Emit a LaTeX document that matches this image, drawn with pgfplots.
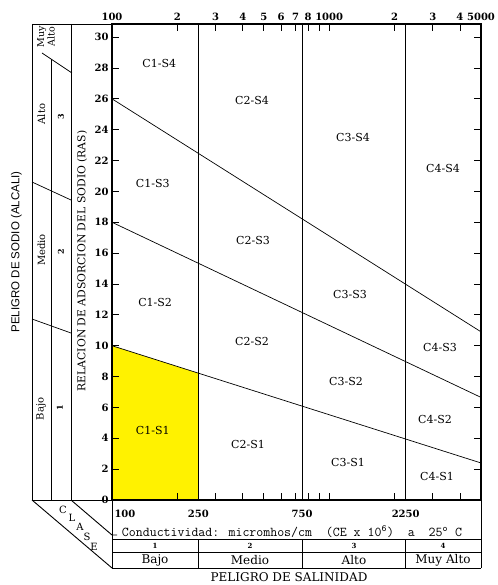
\documentclass[border=0pt]{standalone}
\usepackage{pgfplots}
\pgfplotsset{compat=1.18}
\usepackage{fontspec}
\setmainfont{DejaVu Serif}
\newfontfamily\lsans{Liberation Sans}
\newcommand{\fs}[1]{\fontsize{#1}{#1}\selectfont}
\begin{document}
\begin{tikzpicture}[line cap=butt]
\useasboundingbox (0pt,0pt) rectangle (497pt,-585pt);
\begin{axis}[
  at={(112pt,-500pt)}, anchor=south west,
  scale only axis, width=369pt, height=476pt,
  xmode=log, xmin=100, xmax=5000, ymin=0, ymax=30.85,
  axis line style={line width=1.1pt},
  xtick={100,200,300,400,500,600,700,800,900,1000,2000,3000,4000,5000},
  xticklabels={100,2,3,4,5,6,7,8,{},1000,2,3,4,5000},
  xticklabel pos=upper,
  minor xtick={},
  ytick={0,2,...,30},
  tick align=inside,
  major tick length=7pt,
  tick style={line width=0.9pt, black},
  ticklabel style={font=\bfseries\fs{10}},
  /pgf/number format/assume math mode=true,
  axis on top,
  clip=false,
]
% C1-S1 region
\addplot[fill=yellow, draw=none] coordinates {(100,0) (100,10) (250,8.22) (250,0) (100,0)};
% sodium hazard boundaries
\addplot[black, line width=0.7pt] coordinates {(100,26) (5000,10.9)};
\addplot[black, line width=0.7pt] coordinates {(100,18) (5000,6.65)};
\addplot[black, line width=0.7pt] coordinates {(100,10) (5000,2.4)};
% salinity hazard boundaries
\addplot[black, line width=0.8pt] coordinates {(250,0) (250,30.85)};
\addplot[black, line width=0.8pt] coordinates {(750,0) (750,30.85)};
\addplot[black, line width=0.8pt] coordinates {(2250,0) (2250,30.85)};
% region labels
\begin{scope}[every node/.style={font=\fs{11}}]
\node at (axis cs:165,28.3) {C1-S4};
\node at (axis cs:441,25.9) {C2-S4};
\node at (axis cs:1287,23.5) {C3-S4};
\node at (axis cs:3342,21.5) {C4-S4};
\node at (axis cs:154,20.5) {C1-S3};
\node at (axis cs:446,16.85) {C2-S3};
\node at (axis cs:1247,13.3) {C3-S3};
\node at (axis cs:3236,9.9) {C4-S3};
\node at (axis cs:158,12.8) {C1-S2};
\node at (axis cs:441,10.25) {C2-S2};
\node at (axis cs:1195,7.7) {C3-S2};
\node at (axis cs:3070,5.2) {C4-S2};
\node at (axis cs:154,4.5) {C1-S1};
\node at (axis cs:423,3.6) {C2-S1};
\node at (axis cs:1221,2.46) {C3-S1};
\node at (axis cs:3136,1.5) {C4-S1};
\end{scope}
% bottom conductivity tick labels
\begin{scope}[every node/.style={font=\bfseries\fs{10}}]
\node[anchor=west] at ([xshift=-1pt,yshift=-14pt]axis cs:100,0) {100};
\node at ([yshift=-14pt]axis cs:250,0) {250};
\node at ([yshift=-14pt]axis cs:750,0) {750};
\node at ([yshift=-14pt]axis cs:2250,0) {2250};
\end{scope}
% table dividers
\draw[line width=0.9pt] ([yshift=-39pt]axis cs:250,0) -- ([yshift=-68pt]axis cs:250,0);
\draw[line width=0.9pt] ([yshift=-39pt]axis cs:750,0) -- ([yshift=-68pt]axis cs:750,0);
\draw[line width=0.9pt] ([yshift=-39pt]axis cs:2250,0) -- ([yshift=-68pt]axis cs:2250,0);
\end{axis}
% ---- bottom table ----
\draw[line width=0.9pt] (112pt,-500pt) -- (112pt,-568pt);
\draw[line width=0.9pt] (481pt,-500pt) -- (481pt,-568pt);
\draw[line width=0.9pt] (112pt,-539pt) -- (481pt,-539pt);
\draw[line width=0.9pt] (112pt,-552pt) -- (481pt,-552pt);
\draw[line width=1pt] (112pt,-568pt) -- (481pt,-568pt);
\node[font=\ttfamily\fs{13.5}] at (292pt,-532pt) {Conductividad: micromhos/cm\ \ (CE x 10\textsuperscript{6})\ \ a\ \ 25\textsuperscript{o} C};
\begin{scope}[every node/.style={font=\bfseries\fs{7}}]
\node at (155pt,-545.5pt) {1};
\node at (250pt,-545.5pt) {2};
\node at (354pt,-545.5pt) {3};
\node at (443pt,-545.5pt) {4};
\end{scope}
\begin{scope}[every node/.style={font=\fs{12}}]
\node at (155pt,-560pt) {Bajo};
\node at (250pt,-560pt) {Medio};
\node at (354pt,-560pt) {Alto};
\node at (443pt,-560pt) {Muy Alto};
\end{scope}
\node[font=\fs{12}, inner sep=1pt] at (289pt,-577pt) {PELIGRO DE SALINIDAD};
% ---- left sodium-hazard panel ----
\draw[line width=0.9pt] (32pt,-24pt) -- (112pt,-24pt);
\draw[line width=0.9pt] (32pt,-24pt) -- (32pt,-500pt);
\draw[line width=0.9pt] (71pt,-24pt) -- (71pt,-500pt);
\draw[line width=0.9pt] (51pt,-59pt) -- (51pt,-500pt);
\draw[line width=0.9pt] (32pt,-500pt) -- (112pt,-500pt);
\draw[line width=0.7pt] (42pt,-53pt) -- (72pt,-73pt);
\draw[line width=0.7pt] (32pt,-182pt) -- (71pt,-200pt);
\draw[line width=0.7pt] (32pt,-319pt) -- (71pt,-333pt);
\draw[line width=0.9pt] (32pt,-500pt) -- (112pt,-568pt);
\draw[line width=0.9pt] (71pt,-500pt) -- (112pt,-535pt) -- (117pt,-535pt);
\begin{scope}[every node/.style={font=\fs{10}}]
\node at (63pt,-510pt) {C};
\node at (72pt,-518pt) {L};
\node at (80pt,-527pt) {A};
\node at (87pt,-537pt) {S};
\node at (94pt,-547pt) {E};
\end{scope}
\begin{scope}[every node/.style={font=\fs{10}, rotate=90}]
\node[align=center, font=\fs{9.5}, inner sep=0pt] at (46pt,-37pt) {Muy\\[1pt]Alto};
\node at (41.5pt,-114pt) {Alto};
\node at (41.5pt,-250pt) {Medio};
\node at (41pt,-409pt) {Bajo};
\node[font=\bfseries\fs{8}] at (61pt,-117pt) {3};
\node[font=\bfseries\fs{8}] at (61pt,-252pt) {2};
\node[font=\bfseries\fs{8}] at (60pt,-408pt) {1};
\end{scope}
\node[rotate=90, font=\lsans\fs{11.5}] at (16.5pt,-252pt) {PELIGRO DE SODIO (ALCALI)};
\node[rotate=90, font=\fs{10.8}] at (82pt,-261pt) {RELACION DE ADSORCION DEL SODIO (RAS)};
\end{tikzpicture}
\end{document}
